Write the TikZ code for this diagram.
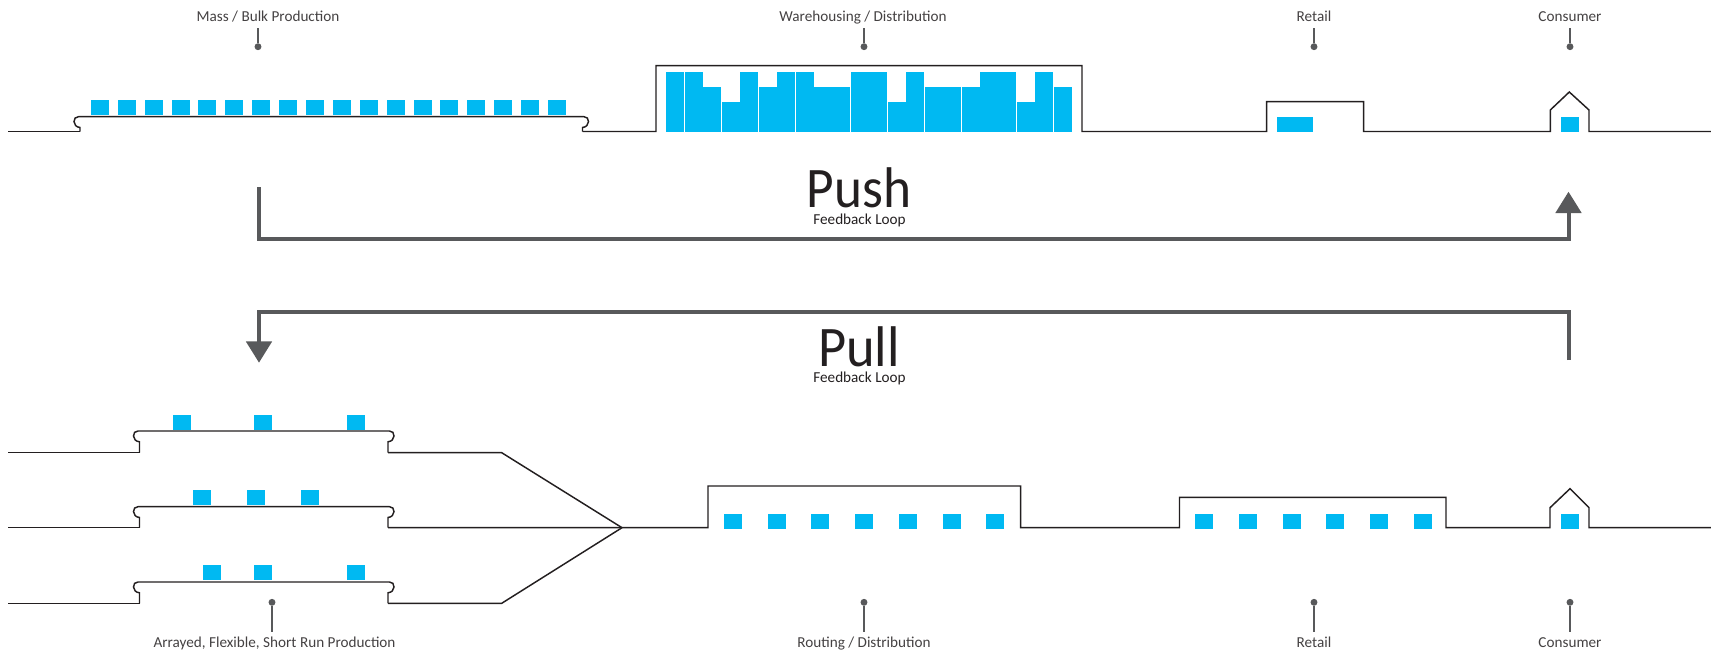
\documentclass[tikz,border=0pt]{standalone}
\usepackage{fontspec}
\setmainfont{Carlito}
\usetikzlibrary{positioning,arrows.meta}
\definecolor{itemblue}{RGB}{0,185,242}
\definecolor{flowgrey}{RGB}{88,89,91}
\definecolor{lineblack}{RGB}{35,31,32}

% left x, right x, top y, base y
\newcommand{\platform}[4]{
  \draw[rail] (#1,#4) -- (#1,#3+10.8)
    .. controls (#1-3.5,#3+10.5) and (#1-6,#3+8) .. (#1-6,#3+5)
    .. controls (#1-6,#3+2) and (#1-4.5,#3) .. (#1-1.5,#3)
    -- (#2+1.5,#3)
    .. controls (#2+4.5,#3) and (#2+6,#3+2) .. (#2+6,#3+5)
    .. controls (#2+6,#3+8) and (#2+3.5,#3+10.5) .. (#2,#3+10.8)
    -- (#2,#4);
}

\tikzset{
  rail/.style={line width=1.1pt, lineblack, line join=miter},
  flow/.style={line width=3pt, flowgrey, line join=miter},
  flowtip/.style={-{Triangle[width=19pt,length=16pt]}},
  stage/.style={font=\fontsize{11.4}{13}\selectfont, text=lineblack!85!white, inner sep=0pt, text height=8pt, text depth=2.5pt},
  mode/.style={font=\fontsize{43}{46}\selectfont, text=lineblack, inner sep=0pt, text height=30pt, text depth=0pt},
  modesub/.style={font=\fontsize{11.4}{13}\selectfont, text=lineblack, inner sep=0pt, text height=8pt, text depth=0pt},
  pinline/.style={line width=1.1pt, flowgrey},
  pindot/.style={circle, fill=flowgrey, inner sep=0pt, minimum size=5.2pt},
}

\begin{document}
\begin{tikzpicture}[x=0.75pt,y=-0.75pt]
    \useasboundingbox (0,0) rectangle (1711,653);

    % top line: push
    \node[stage] (mass) at (268,18) {Mass / Bulk Production};
    \node[stage] (ware) at (863,18) {Warehousing / Distribution};
    \node[stage] (shop) at (1314,18) {Retail};
    \node[stage] (home) at (1570,18) {Consumer};

    \foreach \pname/\px in {massdot/258,waredot/864,shopdot/1314,homedot/1570} {
        \node[pindot] (\pname) at (\px,46.7) {};
        \draw[pinline] (\pname) -- (\px,28);
    }

    \foreach \x in {91.1,117.9,145,171.8,197.9,225,252.2,279,306.2,333,360.1,386.9,414.1,440.1,466.9,494,521.2,548}
        \fill[itemblue] (\x,100) rectangle ++(18,15);

    \platform{80}{582.5}{116.7}{131.5}
    \draw[rail] (8,131.5) -- (80,131.5);
    \draw[rail] (582.5,131.5) -- (656,131.5) -- (656,65.7) -- (1082,65.7) -- (1082,131.5)
        -- (1266.7,131.5) -- (1266.7,101.7) -- (1363.7,101.7) -- (1363.7,131.5)
        -- (1550.3,131.5) -- (1550.3,110) -- (1569.3,92) -- (1589,110) -- (1589,131.5) -- (1711,131.5);

    % warehouse stacks: x, width, top
    \foreach \x/\w/\t in {666/18/72,685/18/72,703/18/87,722/18/102,740/18/72,759/18/87,777/18/72,
        796/18/72,814/36/87,851/36/72,888/18/102,906/18/72,925/36/87,962/18/87,980/36/72,
        1017/18/102,1035/18/72,1054/18/87}
        \fill[itemblue] (\x,\t) rectangle (\x+\w,132);

    \fill[itemblue] (1277,117) rectangle (1313,132);
    \fill[itemblue] (1561,117) rectangle (1579,132);

    % feedback loops
    \node[mode,xscale=0.93] (push) at (859,187) {Push};
    \node[modesub] (pushsub) at (859.5,219) {Feedback Loop};
    \node[mode,xscale=0.95] (pull) at (859,346.5) {Pull};
    \node[modesub] (pullsub) at (859.5,377) {Feedback Loop};

    \coordinate (pushstart) at (259,187);
    \coordinate (pushend) at (1568.5,191.7);
    \coordinate (pullstart) at (1568.5,360);
    \coordinate (pullend) at (259,362.7);
    \draw[flow,flowtip] (pushstart) |- (1568.5,239) -- (pushend);
    \draw[flow,flowtip] (pullstart) |- (259,312) -- (pullend);

    % bottom lines: pull
    \foreach \ytop/\ybase in {431/452.7,506.7/527.7,582/603.3} {
        \platform{139.5}{388}{\ytop}{\ybase}
        \draw[rail] (8,\ybase) -- (139.5,\ybase);
    }
    \draw[rail] (388,452.7) -- (501.7,452.7) -- (622,527.7);
    \draw[rail] (388,603.3) -- (501.7,603.3) -- (622,527.7);
    \draw[rail] (388,527.7) -- (708,527.7) -- (708,486) -- (1020.7,486) -- (1020.7,527.7)
        -- (1179.5,527.7) -- (1179.5,497.3) -- (1446,497.3) -- (1446,527.7)
        -- (1550,527.7) -- (1550,507.7) -- (1570,488.7) -- (1589,507.7) -- (1589,527.7) -- (1711,527.7);

    \foreach \x/\y in {173/415,253.8/415,346.8/415,193.2/490,247/490,301/490,202.9/565,253.8/565,346.8/565,
        724.2/514,768.2/514,811/514,855/514,899/514,943/514,986/514,
        1194.8/514,1238.9/514,1282.9/514,1326.2/514,1370.2/514,1414.2/514,1561/514}
        \fill[itemblue] (\x,\y) rectangle ++(18,15);

    \node[stage] (arrayed) at (274.5,644) {Arrayed, Flexible, Short Run Production};
    \node[stage] (routing) at (864,644) {Routing / Distribution};
    \node[stage] (shopb) at (1314,644) {Retail};
    \node[stage] (homeb) at (1570,644) {Consumer};

    \foreach \pname/\px in {arrayeddot/272,routingdot/864,shopbdot/1314,homebdot/1570} {
        \node[pindot] (\pname) at (\px,602.3) {};
        \draw[pinline] (\pname) -- (\px,631.7);
    }
\end{tikzpicture}
\end{document}
